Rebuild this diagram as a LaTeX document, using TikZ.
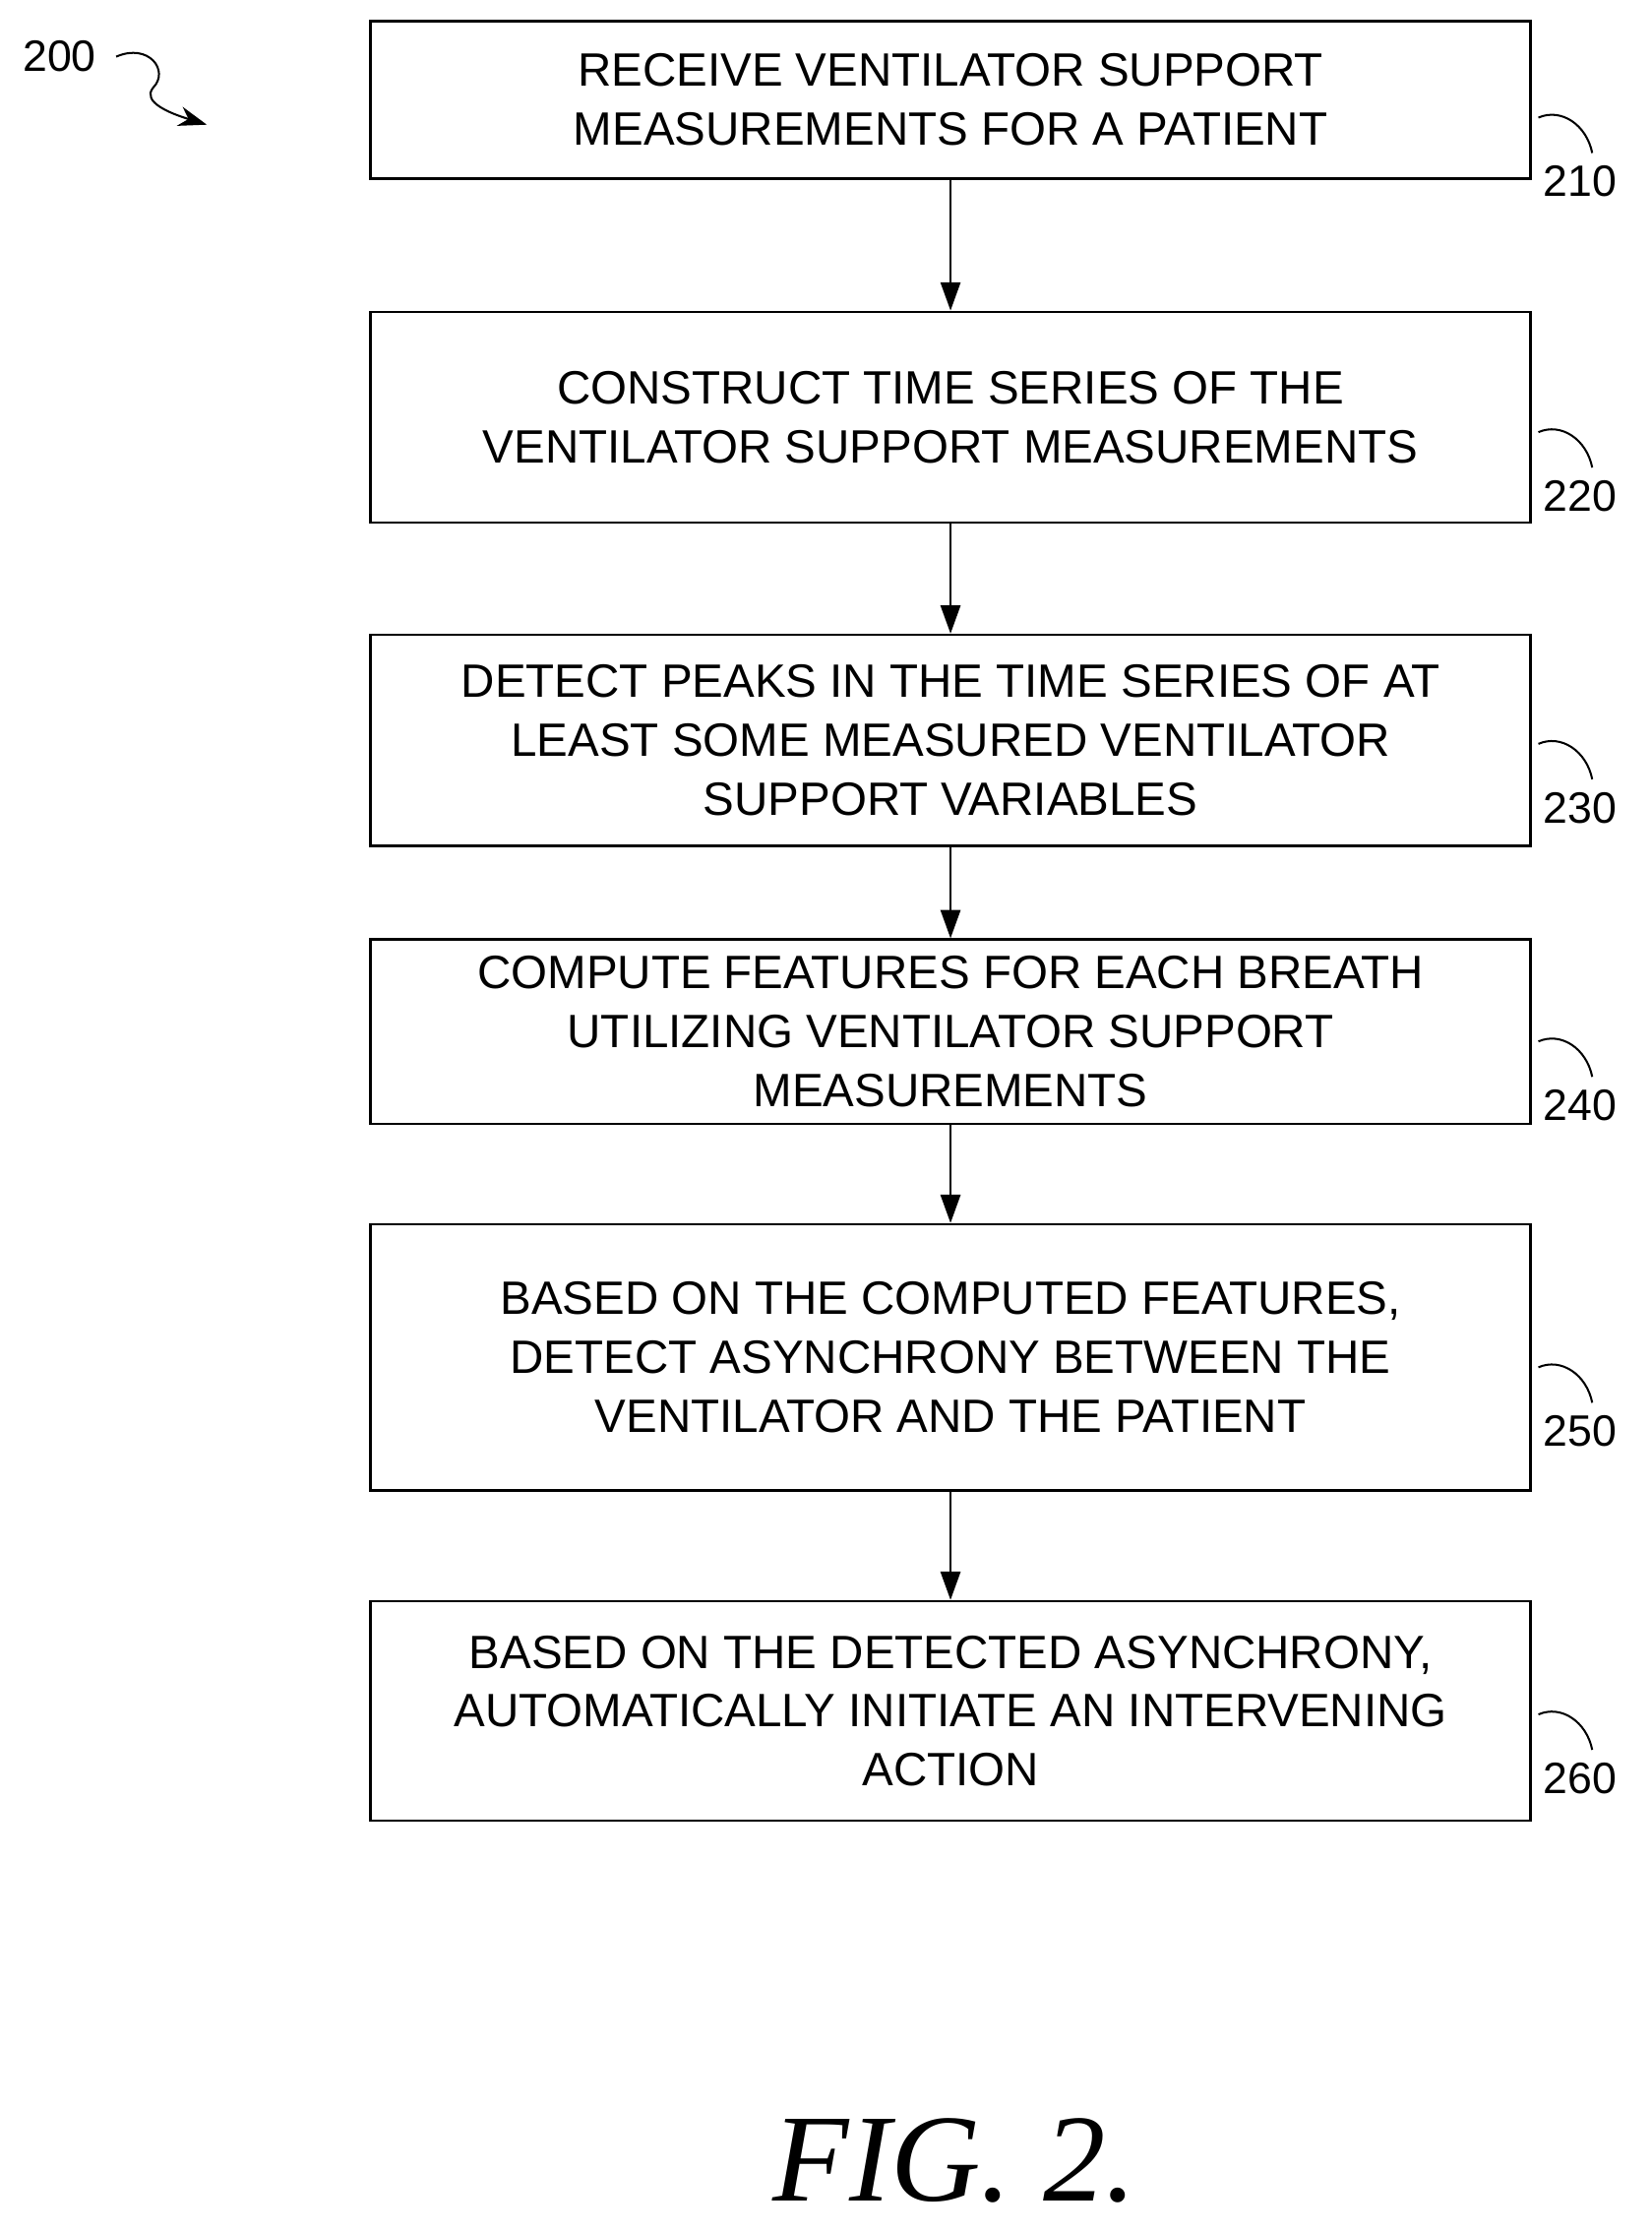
\documentclass[tikz,border=0pt]{standalone}
\usepackage{fontspec}
\setmainfont{Liberation Sans}
\newfontfamily\figfont{Liberation Serif}
\usetikzlibrary{arrows.meta}
\begin{document}
\begin{tikzpicture}[x=1pt,y=-1pt,
  stepbox/.style={draw,line width=1.6pt,minimum width=819pt,align=center,inner sep=0pt,font=\fontsize{33}{41.5}\selectfont},
  arr/.style={line width=1.6pt,-{Triangle[length=20pt,width=14pt]}},
  lbl/.style={font=\fontsize{31}{32}\selectfont,anchor=west},
  curl/.style={line width=1.4pt}]
\useasboundingbox (0,0) rectangle (1166,1576);
\node[stepbox,minimum height=111pt] (b1) at (671,70.5) {RECEIVE VENTILATOR SUPPORT\\MEASUREMENTS FOR A PATIENT};
\node[stepbox,minimum height=149pt] (b2) at (671,294.5) {CONSTRUCT TIME SERIES OF THE\\VENTILATOR SUPPORT MEASUREMENTS};
\node[stepbox,minimum height=149pt] (b3) at (671,522.5) {DETECT PEAKS IN THE TIME SERIES OF AT\\LEAST SOME MEASURED VENTILATOR\\SUPPORT VARIABLES};
\node[stepbox,minimum height=130pt] (b4) at (671,728) {COMPUTE FEATURES FOR EACH BREATH\\UTILIZING VENTILATOR SUPPORT\\MEASUREMENTS};
\node[stepbox,minimum height=188pt] (b5) at (671,958) {BASED ON THE COMPUTED FEATURES,\\DETECT ASYNCHRONY BETWEEN THE\\VENTILATOR AND THE PATIENT};
\node[stepbox,minimum height=155pt] (b6) at (671,1207.5) {BASED ON THE DETECTED ASYNCHRONY,\\AUTOMATICALLY INITIATE AN INTERVENING\\ACTION};
\foreach \a/\b in {b1/b2,b2/b3,b3/b4,b4/b5,b5/b6} \draw[arr] (\a) -- (\b);
\foreach \n/\t/\y in {b1/210/128,b2/220/350,b3/230/570,b4/240/780,b5/250/1010,b6/260/1255}{
  \node[lbl] (l\t) at (1086,\y) {\t};
  \draw[curl] (1086,\y-45) .. controls (1102,\y-52) and (1120,\y-40) .. (1124,\y-20);
}
\node[font=\fontsize{31}{32}\selectfont] (n200) at (42,40) {200};
\coordinate (w0) at (82,40);
\coordinate (w1) at (146,88);
\draw[line width=1.4pt,-{Stealth[length=20pt,width=14pt]}] (w0) .. controls (105,30) and (120,50) .. (108,62) .. controls (100,72) and (120,80) .. (w1);
\node[font=\figfont\itshape\fontsize{88}{88}\selectfont] (fig) at (674,1525) {FIG. 2.};
\end{tikzpicture}
\end{document}
